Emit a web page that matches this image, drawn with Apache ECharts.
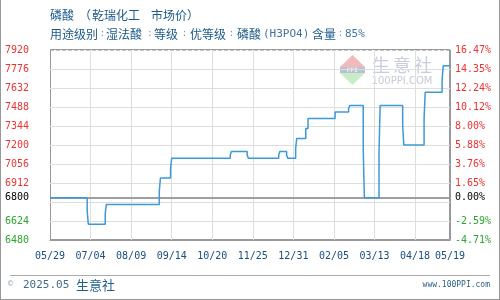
<!DOCTYPE html>
<html>
<head>
<meta charset="utf-8">
<script src="https://cdn.jsdelivr.net/npm/echarts@6/dist/echarts.min.js"></script>
<style>
html,body{margin:0;padding:0;background:#fff;}
#c{width:500px;height:300px;}
</style>
</head>
<body>
<div id="c"></div>
<script>
// ---- data ----
const startDate = '2024-05-29';
const endDate = '2025-05-19';
const basePrice = 6800;
const dates = ['2024-05-29','2024-07-01','2024-07-02','2024-07-17','2024-07-18','2024-09-03','2024-09-04','2024-09-13','2024-09-14',
  '2024-11-05','2024-11-06','2024-11-20','2024-11-21','2024-12-18','2024-12-19','2024-12-25','2024-12-26',
  '2025-01-02','2025-01-03','2025-01-11','2025-01-13','2025-02-06','2025-02-18','2025-02-19','2025-03-03','2025-03-04',
  '2025-03-17','2025-03-18','2025-04-07','2025-04-08','2025-04-26','2025-04-27','2025-05-12','2025-05-13','2025-05-19'];
const prices = [6800,6700,6600,6680,6750,6850,6950,7020,7100,
  7125,7150,7125,7100,7125,7150,7125,7100,
  7175,7250,7325,7400,7450,7475,7500,7160,6800,
  7150,7500,7350,7200,7400,7600,7700,7800,7800];
const yMin = 6480, yMax = 7920, yStep = 144;
const xStepDays = 36;
const titleParts = ['磷酸', '（', '乾瑞化工', '市场价', '）'];
const subParts = ['用途级别', ':', '湿法酸', ':', '等级', ':', '优等级', ':', '磷酸', '(H3PO4)', '含量', ':', '85%'];
const footLeftYear = '2025.05';
const footBrand = '生意社';
const footSite = 'www.100PPI.com';

// ---- build ----
const DAY = 86400000;
const t0 = Date.parse(startDate);
const totalDays = (Date.parse(endDate) - t0) / DAY;
const seriesData = dates.map((d, i) => [(Date.parse(d) - t0) / DAY, prices[i]]);
function dayLabel(v) {
  const d = new Date(t0 + Math.round(v) * DAY);
  const m = String(d.getUTCMonth() + 1).padStart(2, '0');
  const dd = String(d.getUTCDate()).padStart(2, '0');
  return m + '/' + dd;
}
const MONO = '"DejaVu Sans Mono", "Liberation Mono", monospace';
const CJK = '"Noto Sans CJK SC", sans-serif';
const RED = '#ee3333', GREEN = '#2ea62e';
const TXT = '#1b5a8a';

// light grid lines at the axis tick values (fallback, solid)
const GRID_STYLE = {color: '#dedede', type: 'solid', width: 1};
const gridMarks = [];
for (let v = yMin + yStep; v < yMax; v += yStep) gridMarks.push({yAxis: v, lineStyle: GRID_STYLE, label: {show: false}});
for (let d = xStepDays; d < totalDays; d += xStepDays) gridMarks.push({xAxis: d, lineStyle: GRID_STYLE, label: {show: false}});
const SPLIT = () => ({show: true, lineStyle: {color: '#c4c4c4', type: 'dashed', width: 1}});
const HIDDEN_TICK = () => ({show: true, length: 0, lineStyle: {color: 'rgba(0,0,0,0)'}});

const titleX = [50, 79, 92, 151, 187];
const subX = [50, 102.5, 106, 150, 154, 184.5, 190, 231.5, 237, 263, 312, 340.5, 345];
const headerGraphics = [];
titleParts.forEach((t, i) => headerGraphics.push({type: 'text', x: titleX[i], y: 15,
  style: {text: t, fontSize: 12, fill: TXT, fontFamily: CJK, textVerticalAlign: 'middle'}}));
subParts.forEach((t, i) => {
  const ascii = /^[\x00-\x7f]+$/.test(t);
  const colon = t === ':';
  headerGraphics.push({type: 'text', x: subX[i], y: 34,
    style: {text: t, fontSize: colon ? 9 : (ascii ? 11 : 12), fill: colon ? '#6a93b5' : (ascii ? '#3f74a0' : TXT),
      fontFamily: ascii ? MONO : CJK, textVerticalAlign: 'middle', textAlign: colon ? 'center' : 'left'}});
});

const chart = echarts.init(document.getElementById('c'), null, {renderer: 'canvas'});
chart.setOption({
  animation: false,
  backgroundColor: '#fff',
  grid: {left: 50, right: 50, top: 50, bottom: 60, show: false},
  xAxis: {
    type: 'value', min: 0, max: totalDays, interval: xStepDays,
    axisLine: {show: true, lineStyle: {color: '#999'}}, axisTick: HIDDEN_TICK(), splitLine: SPLIT(),
    axisLabel: {margin: 11, fontFamily: MONO, fontSize: 10, color: '#1a4d80', formatter: dayLabel}
  },
  yAxis: [{
    type: 'value', min: yMin, max: yMax, interval: yStep, position: 'left',
    axisLine: {show: true, lineStyle: {color: '#999'}}, axisTick: HIDDEN_TICK(), splitLine: SPLIT(),
    axisLabel: {
      margin: 45, align: 'left', fontFamily: MONO, fontSize: 10,
      formatter: v => (Math.abs(v - basePrice) < yStep / 2 ? '' : String(v)),
      color: v => (Number(v) > basePrice ? RED : GREEN)
    }
  }, {
    type: 'value', min: yMin, max: yMax, interval: yStep, position: 'right',
    axisLine: {show: true, lineStyle: {color: '#999'}}, axisTick: HIDDEN_TICK(), splitLine: {show: false},
    axisLabel: {
      margin: 5, align: 'left', fontFamily: MONO, fontSize: 10,
      formatter: v => (Math.abs(v - basePrice) < yStep / 2 ? '' : ((v - basePrice) / basePrice * 100).toFixed(2) + '%'),
      color: v => (Number(v) > basePrice ? RED : GREEN)
    }
  }],
  graphic: headerGraphics.concat([
    {type: 'rect', z: 3, shape: {x: 50.5, y: 49.5, width: 399, height: 190}, style: {fill: null, stroke: '#999', lineWidth: 1}},
    {type: 'line', shape: {x1: 0.5, y1: 0, x2: 0.5, y2: 300}, style: {stroke: '#999', lineWidth: 1}},
    {type: 'line', shape: {x1: 499.5, y1: 0, x2: 499.5, y2: 300}, style: {stroke: '#999', lineWidth: 1}},
    {type: 'line', shape: {x1: 0, y1: 299.5, x2: 500, y2: 299.5}, style: {stroke: '#999', lineWidth: 1}},
    {type: 'line', shape: {x1: 10, y1: 275.5, x2: 490, y2: 275.5}, style: {stroke: '#aaa', lineWidth: 1}},
    {type: 'text', x: 8, y: 284, style: {text: '©', fontSize: 8, fill: '#8fa8c0', fontFamily: MONO, textVerticalAlign: 'middle'}},
    {type: 'text', x: 23, y: 285, style: {text: footLeftYear, fontSize: 11, fill: '#44698c', fontFamily: MONO, textVerticalAlign: 'middle'}},
    {type: 'text', x: 76, y: 285, style: {text: footBrand, fontSize: 13, fill: '#1d5f8f', fontFamily: CJK, textVerticalAlign: 'middle'}},
    {type: 'text', x: 490, y: 285, style: {text: footSite, fontSize: 8, fill: '#2b5f8a', fontFamily: MONO, textAlign: 'right', textVerticalAlign: 'middle'}},
    // watermark
    {type: 'polygon', z: 1, shape: {points: [[352.5, 55], [340, 67], [365, 67]]}, style: {fill: '#f4b9b9'}},
    {type: 'rect', z: 1, shape: {x: 340, y: 67, width: 25, height: 6}, style: {fill: '#b9c2d4'}},
    {type: 'text', z: 1, x: 352.5, y: 70, style: {text: 'PPI', fontSize: 6, fill: '#fff', fontFamily: MONO, textAlign: 'center', textVerticalAlign: 'middle'}},
    {type: 'polygon', z: 1, shape: {points: [[340, 73], [365, 73], [352.5, 85]]}, style: {fill: '#c8ecc8'}},
    {type: 'text', z: 1, x: 381, y: 65, style: {text: '生', fontSize: 18, fill: '#c8cde0', fontFamily: CJK, textAlign: 'center', textVerticalAlign: 'middle'}},
    {type: 'text', z: 1, x: 402, y: 65, style: {text: '意', fontSize: 18, fill: '#c8cde0', fontFamily: CJK, textAlign: 'center', textVerticalAlign: 'middle'}},
    {type: 'text', z: 1, x: 423, y: 65, style: {text: '社', fontSize: 18, fill: '#c8cde0', fontFamily: CJK, textAlign: 'center', textVerticalAlign: 'middle'}},
    {type: 'text', z: 1, x: 402, y: 81, style: {text: '100PPI.COM', fontSize: 10, fill: '#c8cad6', fontFamily: '"DejaVu Sans", sans-serif', textAlign: 'center', textVerticalAlign: 'middle'}}
  ]),
  series: [{
    name: 'price', type: 'line', step: 'end', data: seriesData, symbol: 'none', z: 5,
    lineStyle: {color: '#3b9ad8', width: 1.5},
    markLine: {
      silent: true, symbol: 'none', z: 4,
      lineStyle: {color: '#999', type: 'solid', width: 1.5},
      data: gridMarks.concat([
        {yAxis: basePrice, label: {show: true, position: 'start', distance: 21, formatter: String(basePrice), color: '#000', fontFamily: MONO, fontSize: 10}},
        {yAxis: basePrice, label: {show: true, position: 'end', distance: 5, formatter: '0.00%', color: '#000', fontFamily: MONO, fontSize: 10}}
      ])
    }
  }]
});
</script>
</body>
</html>
